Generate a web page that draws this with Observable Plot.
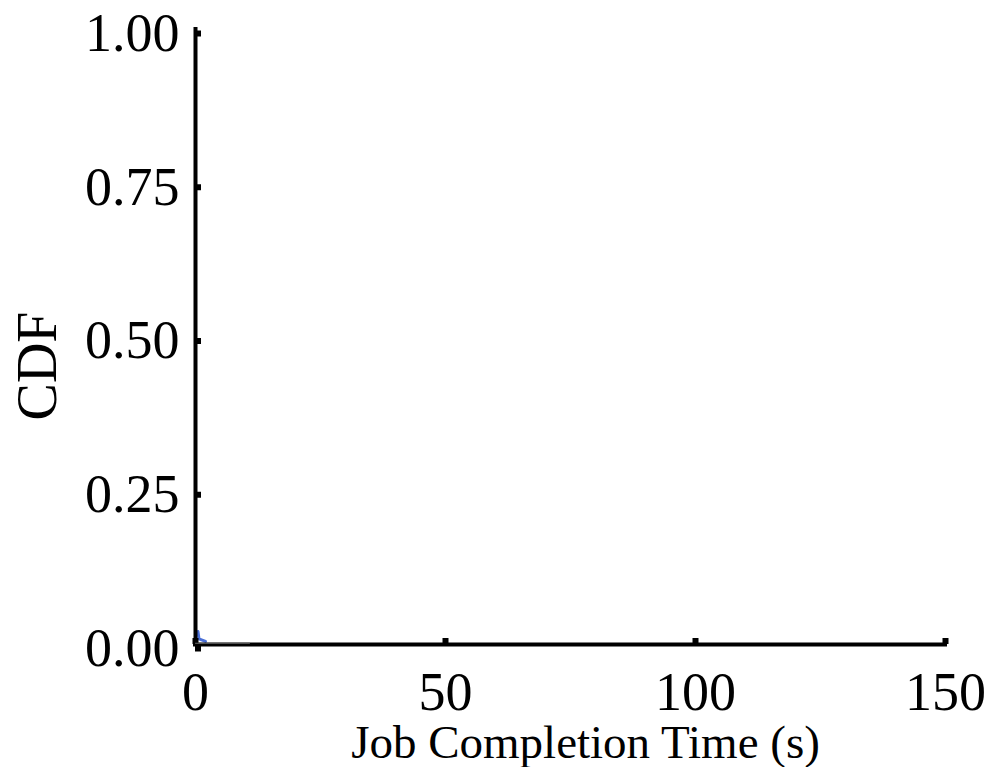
<!DOCTYPE html>
<html>
<head>
<meta charset="utf-8">
<script src="https://cdn.jsdelivr.net/npm/d3@7"></script>
<script src="https://cdn.jsdelivr.net/npm/@observablehq/plot@0.6"></script>
<style>
  html, body { margin: 0; padding: 0; background: #fff; }
  #chart svg { display: block; }
</style>
</head>
<body>
<div id="chart"></div>
<script>
// Tick values
const xTicks = [0, 50, 100, 150];
const yTicks = [0, 0.25, 0.5, 0.75, 1.0];

// Series (CDF curves, nearly hidden at the origin)
const blueX = [0.5, 0.7, 2.0];
const blueY = [0.021, 0.009, 0.005];
const grayX = [0, 10.8];
const grayY = [0.002, 0.002];

const xLabel = "Job Completion Time (s)";
const yLabel = "CDF";

const blue = blueX.map((x, i) => ({x, y: blueY[i]}));
const gray = grayX.map((x, i) => ({x, y: grayY[i]}));

const font = "Liberation Serif, Times New Roman, serif";

const chart = Plot.plot({
  width: 987,
  height: 767,
  marginLeft: 195,
  marginRight: 42,
  marginTop: 29,
  marginBottom: 123,
  style: {fontFamily: font, background: "#fff", color: "#000"},
  x: {domain: [0, 150]},
  y: {domain: [0, 1]},
  marks: [
    Plot.line(blue, {x: "x", y: "y", stroke: "#4a6fd6", strokeWidth: 3}),
    Plot.axisX({ticks: xTicks, tickFormat: d => String(d), tickSize: -6, strokeWidth: 6, tickPadding: 33, fontSize: 54, label: null}),
    Plot.axisY({ticks: yTicks, tickFormat: d3.format(".2f"), tickSize: -6, strokeWidth: 6, tickPadding: 22, fontSize: 54, dy: 4, label: null}),
    Plot.ruleX([0], {stroke: "#000", strokeWidth: 4, strokeLinecap: "square"}),
    Plot.ruleY([0], {stroke: "#000", strokeWidth: 4, strokeLinecap: "square"}),
    Plot.line(gray, {x: "x", y: "y", stroke: "#666", strokeWidth: 1}),
    Plot.text([xLabel], {frameAnchor: "bottom", textAnchor: "middle", dx: 15, dy: 113, fontSize: 47, fill: "#000"}),
    Plot.text([yLabel], {frameAnchor: "left", textAnchor: "middle", rotate: -90, dx: -157, dy: 29, fontSize: 56, fill: "#000"})
  ]
});
document.getElementById("chart").appendChild(chart);
</script>
</body>
</html>
